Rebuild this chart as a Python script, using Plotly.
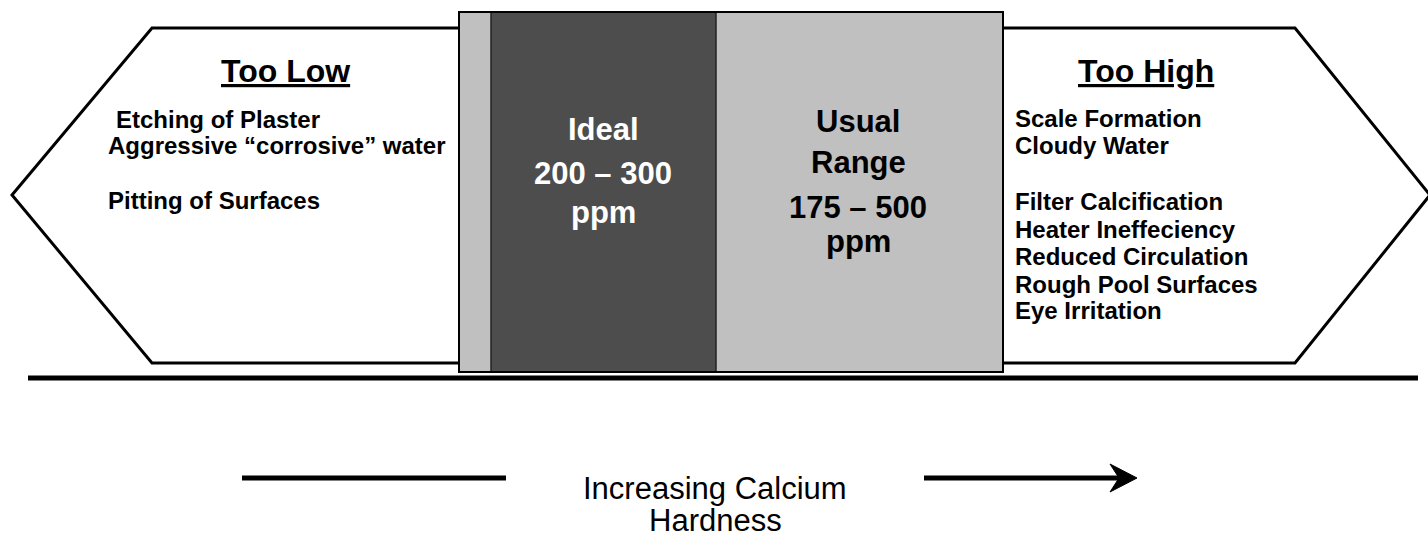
import plotly.graph_objects as go

# ---- text content ----
low_title = "Too Low"
high_title = "Too High"
low_items = ["Etching of Plaster", "Aggressive \u201ccorrosive\u201d water", "Pitting of Surfaces"]
low_items_y = [119, 145, 200]
low_items_x = [114, 106, 106]
high_items = ["Scale Formation", "Cloudy Water", "Filter Calcification", "Heater Ineffeciency",
              "Reduced Circulation", "Rough Pool Surfaces", "Eye Irritation"]
high_items_y = [118, 145, 201, 229, 256, 284, 310]
ideal_lines = ["Ideal", "200 \u2013 300", "ppm"]
ideal_y = [129, 173, 212]
usual_lines = ["Usual", "Range", "175 \u2013 500", "ppm"]
usual_y = [121, 162, 207, 241]
axis_label = ["Increasing Calcium", "Hardness"]
axis_label_y = [488, 520]

W, H = 1428, 538
FONT = "Liberation Sans, Arial, Helvetica, sans-serif"

fig = go.Figure()
fig.add_trace(go.Scatter(x=[0, W], y=[0, H], mode="markers",
                         marker=dict(opacity=0), hoverinfo="skip", showlegend=False))

shapes = []
# left hexagon (arrow pointing left)
shapes.append(dict(type="path", path="M12,195 L152,28 L480,28 L480,363 L152,363 Z",
                   fillcolor="white", line=dict(color="black", width=3)))
# right hexagon (arrow pointing right)
shapes.append(dict(type="path", path="M980,28 L1295,28 L1430,195 L1295,363 L980,363 Z",
                   fillcolor="white", line=dict(color="black", width=3)))
# usual range box
shapes.append(dict(type="rect", x0=459, x1=1003, y0=12, y1=372,
                   fillcolor="#c0c0c0", line=dict(color="black", width=2)))
# ideal box
shapes.append(dict(type="rect", x0=491, x1=716, y0=12, y1=372,
                   fillcolor="#4d4d4d", line=dict(color="#222222", width=1.5)))
# outer border redraw
shapes.append(dict(type="rect", x0=459, x1=1003, y0=12, y1=372,
                   fillcolor="rgba(0,0,0,0)", line=dict(color="black", width=2)))
# base line
shapes.append(dict(type="line", x0=28, x1=1418, y0=378, y1=378,
                   line=dict(color="black", width=5)))
# bottom arrow
shapes.append(dict(type="line", x0=242, x1=506, y0=478, y1=478,
                   line=dict(color="black", width=5)))
shapes.append(dict(type="line", x0=924, x1=1120, y0=478, y1=478,
                   line=dict(color="black", width=5)))
shapes.append(dict(type="path", path="M1110,464 L1137,478 L1110,492 L1119,478 Z",
                   fillcolor="black", line=dict(color="black", width=1)))

ann = []
def add(text, x, y, size, color="black", bold=True, xanchor="center"):
    t = f"<b>{text}</b>" if bold else text
    ann.append(dict(text=t, x=x, y=y, xref="x", yref="y", showarrow=False,
                    xanchor=xanchor, yanchor="middle",
                    font=dict(family=FONT, size=size, color=color)))

add(f"<u>{low_title}</u>", 285, 71, 32)
add(f"<u>{high_title}</u>", 1146, 71, 32)
for t, x, y in zip(low_items, low_items_x, low_items_y):
    add(t, x, y, 24, xanchor="left")
for t, y in zip(high_items, high_items_y):
    add(t, 1013, y, 24, xanchor="left")
for t, y in zip(ideal_lines, ideal_y):
    add(t, 603, y, 31, color="white")
for t, y in zip(usual_lines, usual_y):
    add(t, 858, y, 31)
for t, y in zip(axis_label, axis_label_y):
    add(t, 715, y, 31, bold=False)

fig.update_layout(
    width=W, height=H, autosize=False,
    margin=dict(l=0, r=0, t=0, b=0),
    paper_bgcolor="white", plot_bgcolor="white",
    xaxis=dict(range=[0, W], visible=False, fixedrange=True),
    yaxis=dict(range=[H, 0], visible=False, fixedrange=True),
    shapes=shapes, annotations=ann, showlegend=False,
)
fig.write_html("out.html", config={"displayModeBar": False},
               post_script="document.body.style.margin='0px';document.body.style.overflow='hidden';")
